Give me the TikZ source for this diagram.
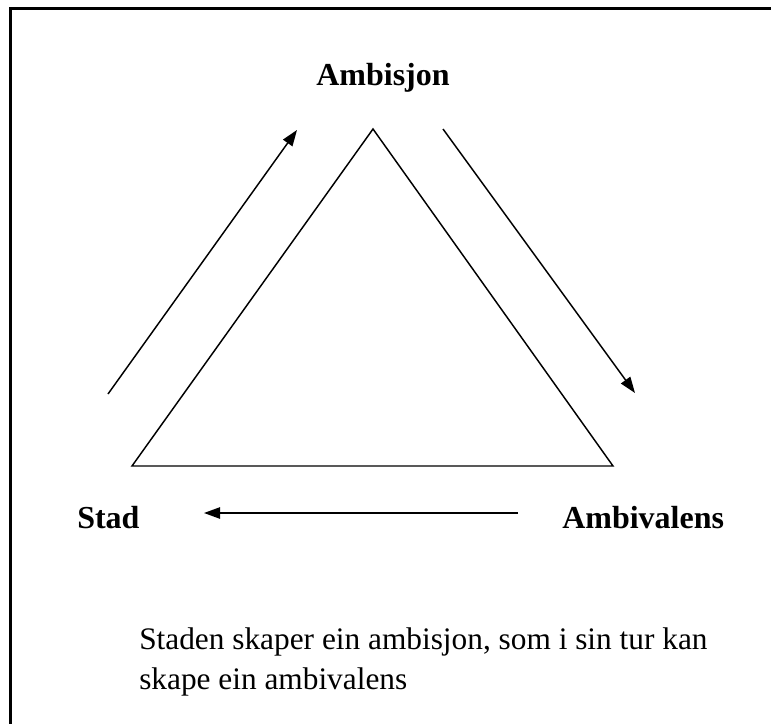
\documentclass[tikz,border=0pt]{standalone}
\usepackage{fontspec}
\setmainfont{Liberation Serif}
\usetikzlibrary{arrows.meta}
\begin{document}
\begin{tikzpicture}[x=0.75pt,y=-0.75pt,
  lbl/.style={font=\fontsize{24pt}{30pt}\selectfont\bfseries, inner sep=0pt},
  body/.style={font=\fontsize{23.5pt}{30pt}\selectfont, inner sep=0pt, anchor=base west},
  edge/.style={line width=1.1pt},
  flow/.style={line width=1.1pt, -{Triangle[length=12pt,width=8.5pt]}},
  frame/.style={line width=1.6pt}]
\useasboundingbox (0,0) rectangle (771,724);
\begin{scope}
\clip (0,0) rectangle (771,724);
\draw[frame] (10.5,740) -- (10.5,8.5) -- (790,8.5);
\end{scope}
% triangle
\coordinate (top) at (373,129);
\coordinate (bl) at (132,466);
\coordinate (br) at (613,466);
\draw[edge, line join=miter] (top) -- (br) -- (bl) -- cycle;
% labels
\node[lbl, anchor=base] (ambisjon) at (383,86) {Ambisjon};
\node[lbl, anchor=base west] (stad) at (77,528) {Stad};
\node[lbl, anchor=base west] (ambivalens) at (562,528) {Ambivalens};
% arrows
\coordinate (a1s) at (108,394);
\coordinate (a1e) at (297,130);
\coordinate (a2s) at (443,129);
\coordinate (a2e) at (635,393);
\coordinate (a3s) at (518,513);
\coordinate (a3e) at (204,513);
\draw[flow] (a1s) -- (a1e);
\draw[flow] (a2s) -- (a2e);
\draw[flow] (a3s) -- (a3e);
% caption
\node[body] (cap1) at (139,649) {Staden skaper ein ambisjon, som i sin tur kan};
\node[body] (cap2) at (139,689) {skape ein ambivalens};
\end{tikzpicture}
\end{document}
